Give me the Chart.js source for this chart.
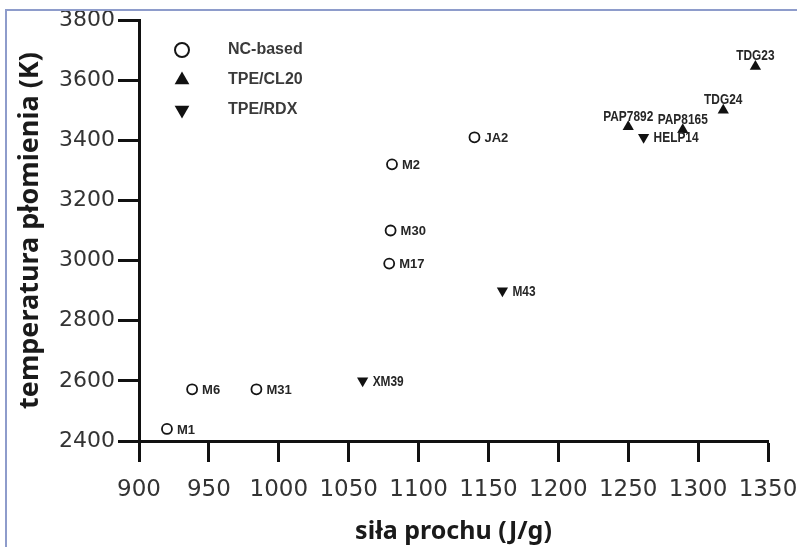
<!DOCTYPE html>
<html>
<head>
<meta charset="utf-8">
<script src="https://cdn.jsdelivr.net/npm/chart.js@4.4.0/dist/chart.umd.min.js"></script>
<style>
  html, body { margin: 0; padding: 0; background: #fff; }
  #wrap { position: relative; width: 797px; height: 547px; }
  #frame {
    position: absolute; left: 5px; top: 9px; right: 0; bottom: 0;
    border-left: 2px solid #8e9ccb; border-top: 2px solid #8e9ccb;
    pointer-events: none;
  }
</style>
</head>
<body>
<div id="wrap">
  <canvas id="chart" width="797" height="547"></canvas>
  <div id="frame"></div>
</div>
<script>
// axis ticks
const forceTicks = [900, 950, 1000, 1050, 1100, 1150, 1200, 1250, 1300, 1350];
const tempTicks = [2400, 2600, 2800, 3000, 3200, 3400, 3600, 3800];

// NC-based propellants
const ncNames = ['M1', 'M6', 'M31', 'M17', 'M30', 'M2', 'JA2'];
const ncForce = [920, 938, 984, 1079, 1080, 1081, 1140];
const ncTemp = [2440, 2572, 2572, 2990, 3100, 3320, 3410];

// TPE/CL20
const cl20Names = ['PAP7892', 'PAP8165', 'TDG24', 'TDG23'];
const cl20Force = [1250, 1289, 1318, 1341];
const cl20Temp = [3445, 3435, 3500, 3645];

// TPE/RDX
const rdxNames = ['XM39', 'M43', 'HELP14'];
const rdxForce = [1060, 1160, 1261];
const rdxTemp = [2600, 2900, 3410];

function toPoints(xs, ys) {
    return xs.map((x, i) => ({ x: x, y: ys[i] }));
}

// names drawn centred above the marker instead of to its right
const labelAbove = ['PAP7892', 'PAP8165', 'TDG24', 'TDG23'];

const pointLabels = {
    id: 'pointLabels',
    afterDatasetsDraw(chart) {
        const ctx = chart.ctx;
        chart.data.datasets.forEach((ds, i) => {
            const meta = chart.getDatasetMeta(i);
            meta.data.forEach((pt, j) => {
                const name = ds.names[j];
                const above = labelAbove.includes(name);
                ctx.save();
                ctx.fillStyle = '#262626';
                ctx.font = ds.narrowLabels
                    ? 'bold 14px "Liberation Sans", Arial, sans-serif'
                    : 'bold 13px "Liberation Sans", Arial, sans-serif';
                if (above) {
                    ctx.translate(pt.x, pt.y - 3);
                    ctx.textAlign = 'center';
                    ctx.textBaseline = 'bottom';
                } else {
                    ctx.translate(pt.x + 10, pt.y + 1);
                    ctx.textAlign = 'left';
                    ctx.textBaseline = 'middle';
                }
                // the triangle series use a narrow face
                if (ds.narrowLabels) ctx.scale(0.85, 1);
                ctx.fillText(name, 0, 0);
                ctx.restore();
            });
        });
    }
};

const legendRows = {
    id: 'legendRows',
    afterDraw(chart) {
        const ctx = chart.ctx;
        const left = chart.chartArea.left + 43;
        const top = chart.chartArea.top + 30;
        ctx.save();
        chart.data.datasets.forEach((ds, i) => {
            const y = top + i * 30;
            ctx.fillStyle = ds.backgroundColor;
            ctx.strokeStyle = ds.borderColor;
            ctx.lineWidth = 2;
            Chart.helpers.drawPoint(ctx, {
                pointStyle: ds.pointStyle,
                rotation: ds.pointRotation || 0,
                radius: ds.pointStyle === 'circle' ? 7 : 8.5,
                borderWidth: ds.pointStyle === 'circle' ? 2 : 0
            }, left, y);
            ctx.fillStyle = '#3a3a3a';
            ctx.font = 'bold 16px "Liberation Sans", Arial, sans-serif';
            ctx.textAlign = 'left';
            ctx.textBaseline = 'middle';
            ctx.fillText(ds.label, left + 46, y);
        });
        ctx.restore();
    }
};

const plainNumber = v => String(v);

const ctx = document.getElementById('chart').getContext('2d');
const chart = new Chart(ctx, {
    type: 'scatter',
    data: {
        datasets: [
            {
                label: 'NC-based',
                names: ncNames,
                data: toPoints(ncForce, ncTemp),
                pointStyle: 'circle',
                pointRadius: 5,
                pointBorderWidth: 1.8,
                backgroundColor: '#ffffff',
                borderColor: '#151515'
            },
            {
                label: 'TPE/CL20',
                names: cl20Names,
                narrowLabels: true,
                data: toPoints(cl20Force, cl20Temp),
                pointStyle: 'triangle',
                pointRadius: 6.5,
                pointBorderWidth: 0,
                backgroundColor: '#111111',
                borderColor: '#111111'
            },
            {
                label: 'TPE/RDX',
                names: rdxNames,
                narrowLabels: true,
                data: toPoints(rdxForce, rdxTemp),
                pointStyle: 'triangle',
                pointRotation: 180,
                pointRadius: 6.5,
                pointBorderWidth: 0,
                backgroundColor: '#111111',
                borderColor: '#111111'
            }
        ]
    },
    options: {
        responsive: false,
        animation: false,
        layout: { padding: { top: 20, right: 29, left: 0, bottom: 0 } },
        plugins: {
            legend: { display: false },
            tooltip: { enabled: false }
        },
        scales: {
            x: {
                type: 'linear',
                min: forceTicks[0],
                max: forceTicks[forceTicks.length - 1],
                afterBuildTicks: s => { s.ticks = forceTicks.map(v => ({ value: v })); },
                afterFit: s => { s.height = 106; s.paddingLeft = 0; s.paddingRight = 0; },
                grid: { drawOnChartArea: false, tickLength: 21, tickWidth: 3, tickColor: '#111' },
                border: { width: 3, color: '#111' },
                ticks: {
                    color: '#333',
                    font: { family: 'DejaVu Sans', size: 23 },
                    padding: 14,
                    maxRotation: 0,
                    autoSkip: false,
                    callback: plainNumber
                },
                title: {
                    display: true,
                    text: 'siła prochu (J/g)',
                    color: '#1a1a1a',
                    font: { family: 'Noto Sans', size: 25, weight: 'bold' },
                    padding: 0
                }
            },
            y: {
                type: 'linear',
                min: tempTicks[0],
                max: tempTicks[tempTicks.length - 1],
                afterBuildTicks: s => { s.ticks = tempTicks.map(v => ({ value: v })); },
                afterFit: s => { s.width = 139; },
                grid: { drawOnChartArea: false, tickLength: 21, tickWidth: 3, tickColor: '#111' },
                border: { width: 3, color: '#111' },
                ticks: {
                    color: '#333',
                    font: { family: 'DejaVu Sans', size: 22 },
                    padding: 3,
                    callback: plainNumber
                },
                title: {
                    display: true,
                    text: 'temperatura płomienia (K)',
                    color: '#1a1a1a',
                    font: { family: 'Noto Sans', size: 27, weight: 'bold' },
                    padding: { top: 14, bottom: 0 }
                }
            }
        }
    },
    plugins: [pointLabels, legendRows]
});
</script>
</body>
</html>
